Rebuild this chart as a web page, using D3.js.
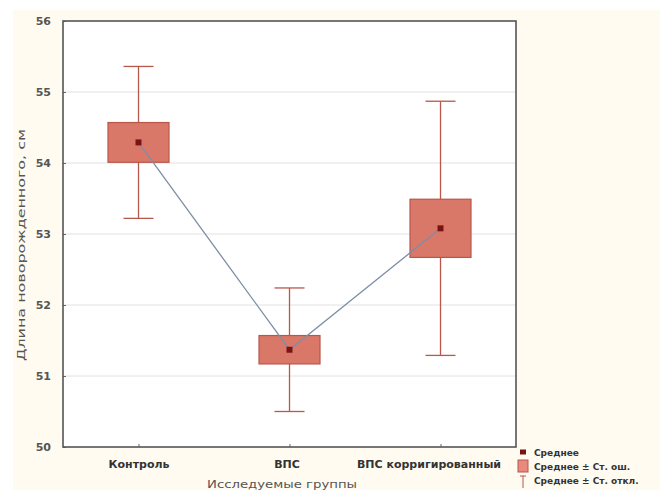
<!DOCTYPE html>
<html>
<head>
<meta charset="utf-8">
<script src="https://d3js.org/d3.v7.min.js"></script>
<style>
  body { margin: 0; background: #fff; }
  text { font-family: "DejaVu Sans", Arial, sans-serif; }
</style>
</head>
<body>
<svg width="660" height="490"></svg>
<script>
const groups = ["Контроль", "ВПС", "ВПС корригированный"];
const means = [54.29, 51.37, 53.08];
const stdErr = [0.28, 0.2, 0.41];
const stdDev = [1.07, 0.87, 1.79];
const yTicks = [50, 51, 52, 53, 54, 55, 56];
const legendItems = ["Среднее", "Среднее ± Ст. ош.", "Среднее ± Ст. откл."];

const svg = d3.select("svg"),
      margin = {top: 21, right: 144, bottom: 43, left: 63},
      width = 660, height = 490;

// кремовый фон, как на скане
svg.append("rect").attr("x", 13).attr("y", 10).attr("width", 647).attr("height", 480).attr("fill", "#fffbf1");
svg.append("rect").attr("x", margin.left).attr("y", margin.top)
   .attr("width", width - margin.left - margin.right).attr("height", height - margin.top - margin.bottom)
   .attr("fill", "#fff");

const x = d3.scalePoint().domain(groups).range([margin.left, width - margin.right]).padding(0.5);
const y = d3.scaleLinear().domain([50, 56]).range([height - margin.bottom, margin.top]);

// сетка
svg.append("g").selectAll("line").data(yTicks.slice(1, -1)).enter().append("line")
   .attr("x1", margin.left).attr("x2", width - margin.right)
   .attr("y1", d => y(d)).attr("y2", d => y(d))
   .attr("stroke", "#e2e2e2").attr("stroke-width", 1);

// оси
const yAxis = svg.append("g").attr("transform", `translate(${margin.left},0)`)
   .call(d3.axisLeft(y).tickValues(yTicks).tickFormat(d3.format("d")).tickSize(-3).tickPadding(12));
const xAxis = svg.append("g").attr("transform", `translate(0,${height - margin.bottom})`)
   .call(d3.axisBottom(x).tickSize(-3).tickPadding(13));
[yAxis, xAxis].forEach(a => {
  a.select(".domain").remove();
  a.selectAll(".tick line").attr("stroke", "#666");
  a.selectAll("text").attr("fill", "#555").attr("font-size", 11).attr("font-weight", "bold");
});
xAxis.selectAll("text").attr("font-size", 11).attr("fill", "#333")
   .attr("dx", (d, i) => i === 1 ? -3 : i === 2 ? -12 : 0);

svg.append("rect").attr("x", margin.left).attr("y", margin.top)
   .attr("width", width - margin.left - margin.right).attr("height", height - margin.top - margin.bottom)
   .attr("fill", "none").attr("stroke", "#555").attr("stroke-width", 1.6);

// подписи осей
svg.append("text").attr("transform", "translate(25,245) rotate(-90)")
   .attr("text-anchor", "middle").attr("font-size", 10).attr("fill", "#555")
   .attr("textLength", 232).attr("lengthAdjust", "spacingAndGlyphs")
   .text("Длина новорожденного, см");
svg.append("text").attr("x", 282).attr("y", 488)
   .attr("text-anchor", "middle").attr("font-size", 11).attr("fill", "#555")
   .attr("textLength", 150).attr("lengthAdjust", "spacingAndGlyphs")
   .text("Исследуемые группы");

const data = groups.map((g, i) => ({g, m: means[i], se: stdErr[i], sd: stdDev[i]}));
const boxW = 61, capW = 30;

const item = svg.append("g").selectAll("g").data(data).enter().append("g");
// усы
item.append("line").attr("x1", d => x(d.g)).attr("x2", d => x(d.g))
   .attr("y1", d => y(d.m + d.sd)).attr("y2", d => y(d.m - d.sd))
   .attr("stroke", "#b8574c").attr("stroke-width", 1.3);
item.selectAll(".cap").data(d => [[d.g, d.m + d.sd], [d.g, d.m - d.sd]]).enter().append("line")
   .attr("x1", d => x(d[0]) - capW / 2).attr("x2", d => x(d[0]) + capW / 2)
   .attr("y1", d => y(d[1])).attr("y2", d => y(d[1]))
   .attr("stroke", "#b8574c").attr("stroke-width", 1.3);
// ящики
item.append("rect").attr("x", d => x(d.g) - boxW / 2).attr("width", boxW)
   .attr("y", d => y(d.m + d.se)).attr("height", d => y(d.m - d.se) - y(d.m + d.se))
   .attr("fill", "#d97868").attr("stroke", "#b9564a").attr("stroke-width", 1.2);

// линия средних
svg.append("path").datum(data)
   .attr("d", d3.line().x(d => x(d.g)).y(d => y(d.m)))
   .attr("fill", "none").attr("stroke", "#7d8ea6").attr("stroke-width", 1.3);

svg.append("g").selectAll("rect").data(data).enter().append("rect")
   .attr("x", d => x(d.g) - 3).attr("y", d => y(d.m) - 3).attr("width", 6).attr("height", 6)
   .attr("fill", "#7a1414");

// легенда
const lg = svg.append("g").attr("transform", "translate(523,452)");
lg.append("rect").attr("x", -3).attr("y", -2.5).attr("width", 6).attr("height", 5).attr("fill", "#7a1414");
lg.append("rect").attr("x", -5).attr("y", 8).attr("width", 10).attr("height", 12)
   .attr("fill", "#e88a80").attr("stroke", "#b9564a");
lg.append("line").attr("x1", 0).attr("x2", 0).attr("y1", 24).attr("y2", 36).attr("stroke", "#b8574c");
lg.append("line").attr("x1", -3).attr("x2", 3).attr("y1", 24).attr("y2", 24).attr("stroke", "#b8574c");
lg.selectAll("text").data(legendItems).enter().append("text")
   .attr("x", 11).attr("y", (d, i) => i * 14 + 3.5)
   .attr("font-size", 9).attr("font-weight", "bold").attr("fill", "#333")
   .text(d => d);
</script>
</body>
</html>
